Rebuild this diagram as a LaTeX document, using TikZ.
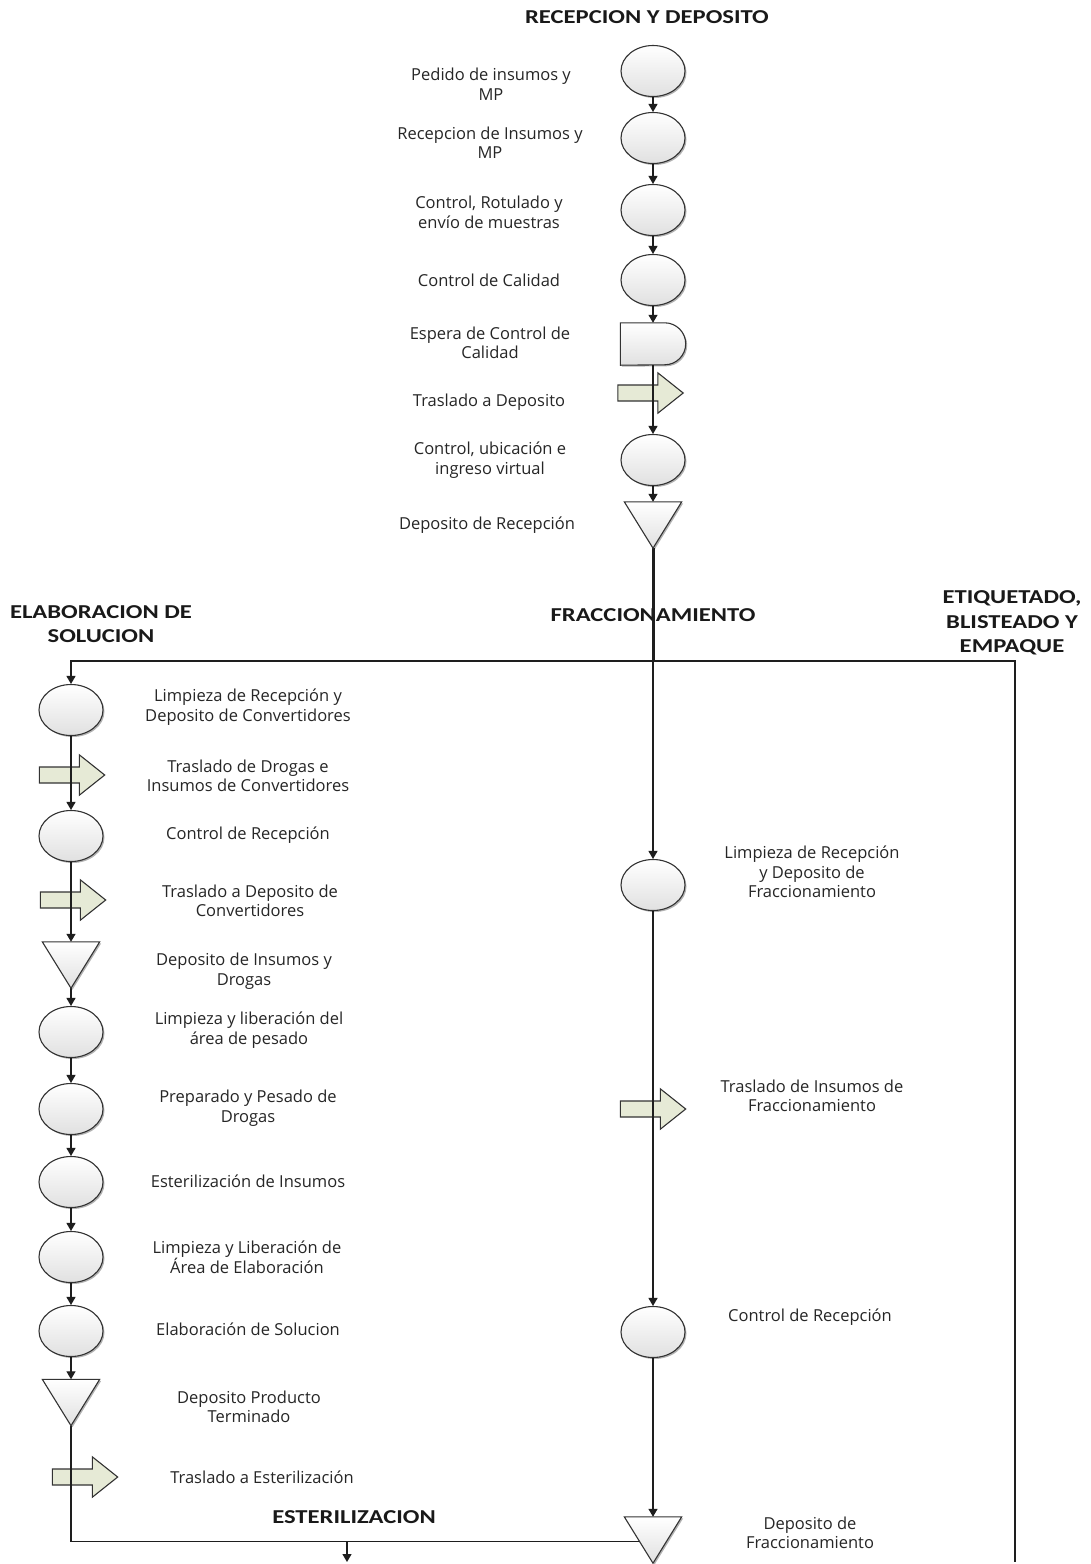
\documentclass[tikz,border=0pt]{standalone}
\usepackage{fontspec}
\setmainfont{Open Sans}
\newfontfamily\hdrfont[FakeStretch=1.25]{Carlito}
\usetikzlibrary{shapes.geometric,arrows.meta,shadows,calc}
\pgfdeclarelayer{bg}
\pgfdeclarelayer{mid}
\pgfsetlayers{bg,mid,main}
\definecolor{movefill}{RGB}{230,234,214}
\definecolor{ink}{RGB}{30,30,30}

% symbol outlines drawn around invisible anchor nodes
\newcommand\movearrow[1]{%
  \draw[movestyle] ([yshift=8pt]#1.west) -- ([xshift=40pt,yshift=8pt]#1.west)
    -- ([xshift=40pt]#1.north west) -- (#1.east) -- ([xshift=40pt]#1.south west)
    -- ([xshift=40pt,yshift=-8pt]#1.west) -- ([yshift=-8pt]#1.west) -- cycle;}
\newcommand\storetri[1]{%
  \draw[solid3d] (#1.north west) -- (#1.north east) -- (#1.south) -- cycle;}
\newcommand\delaybox[1]{%
  \draw[solid3d] (#1.south west) -- (#1.north west) -- ([xshift=-21pt]#1.north east)
    arc[start angle=90,end angle=-90,x radius=21pt,y radius=21pt] -- cycle;}

\begin{document}
\begin{tikzpicture}[x=1pt,y=1pt,
  lbl/.style={font=\fontsize{16.5}{19.5}\selectfont, text=black!85, align=center, inner sep=0pt},
  hdr/.style={font=\hdrfont\bfseries\fontsize{19.7}{24.5}\selectfont, text=black!90, align=center, inner sep=0pt},
  solid3d/.style={draw=black!80, line width=1.1pt, top color=white, bottom color=black!12,
    drop shadow={shadow xshift=1.5pt, shadow yshift=-1.5pt, opacity=0.3, fill=black}},
  movestyle/.style={draw=black!80, line width=1.1pt, fill=movefill},
  opcircle/.style={ellipse, solid3d, minimum width=64pt, minimum height=51pt, inner sep=0pt},
  arrowslot/.style={inner sep=0pt, minimum width=65pt, minimum height=40pt},
  storeslot/.style={inner sep=0pt, minimum width=57pt, minimum height=46pt},
  delayslot/.style={inner sep=0pt, minimum width=65pt, minimum height=42pt},
  conn/.style={draw=ink, line width=1.2pt},
  flow/.style={conn, -{Triangle[width=9pt,length=8pt]}},
]
\useasboundingbox (0,0) rectangle (1090,-1564);
\begin{pgfonlayer}{bg}
  \fill[white] (0,0) rectangle (1090,-1564);
\end{pgfonlayer}

% ---------------- section headings ----------------
\node[hdr] (hRec) at (647,-17) {RECEPCION Y DEPOSITO};
\node[hdr] (hElab) at (101,-624) {ELABORACION DE\\SOLUCION};
\node[hdr] (hEtiq) at (1012,-623) {ETIQUETADO,\\BLISTEADO Y\\EMPAQUE};
\node[hdr] (hEst) at (354,-1517) {ESTERILIZACION};
\begin{pgfonlayer}{bg}
  \node[hdr] (hFrac) at (653,-615) {FRACCIONAMIENTO};
\end{pgfonlayer}

% ---------------- recepcion y deposito ----------------
\node[opcircle] (c1) at (653,-71) {};
\node[opcircle] (c2) at (653,-138) {};
\node[opcircle] (c3) at (653,-210) {};
\node[opcircle] (c4) at (653,-280) {};
\node[delayslot] (e5) at (653,-344) {};
\delaybox{e5}
\node[arrowslot] (a6) at (650.5,-393) {};
\node[opcircle] (c7) at (653,-460) {};
\node[storeslot] (t8) at (653,-525) {};
\storetri{t8}

\node[lbl] (l1) at (491,-84) {Pedido de insumos y\\MP};
\node[lbl] (l2) at (490,-142.5) {Recepcion de Insumos y\\MP};
\node[lbl] (l3) at (489,-212.5) {Control, Rotulado y\\envío de muestras};
\node[lbl] (l4) at (489,-280) {Control de Calidad};
\node[lbl] (l5) at (490,-343) {Espera de Control de\\Calidad};
\node[lbl] (l6) at (489,-402) {Traslado a Deposito};
\node[lbl] (l7) at (490,-460) {Control, ubicación e\\ingreso virtual};
\node[lbl] (l8) at (487,-525) {Deposito de Recepción};

% ---------------- elaboracion de solucion ----------------
\node[opcircle] (L1) at (71,-710) {};
\node[arrowslot] (A2) at (72,-775) {};
\node[opcircle] (L3) at (71,-836) {};
\node[arrowslot] (A4) at (73,-900) {};
\node[storeslot] (T5) at (71,-965) {};
\storetri{T5}
\node[opcircle] (L6) at (71,-1032) {};
\node[opcircle] (L7) at (71,-1109) {};
\node[opcircle] (L8) at (71,-1182) {};
\node[opcircle] (L9) at (71,-1257) {};
\node[opcircle] (L10) at (71,-1331) {};
\node[storeslot] (T11) at (71,-1402.5) {};
\storetri{T11}
\node[arrowslot] (A12) at (85,-1477) {};

\node[lbl] (m1) at (248,-707) {Limpieza de Recepción y\\Deposito de Convertidores};
\node[lbl] (m2) at (248,-776) {Traslado de Drogas e\\Insumos de Convertidores};
\node[lbl] (m3) at (248,-835) {Control de Recepción};
\node[lbl] (m4) at (250,-901) {Traslado a Deposito de\\Convertidores};
\node[lbl] (m5) at (244,-971) {Deposito de Insumos y\\Drogas};
\node[lbl] (m6) at (249,-1030) {Limpieza y liberación del\\área de pesado};
\node[lbl] (m7) at (248,-1108) {Preparado y Pesado de\\Drogas};
\node[lbl] (m8) at (248,-1181) {Esterilización de Insumos};
\node[lbl] (m9) at (247,-1257) {Limpieza y Liberación de\\Área de Elaboración};
\node[lbl] (m10) at (248,-1329) {Elaboración de Solucion};
\node[lbl] (m11) at (249,-1407) {Deposito Producto\\Terminado};
\node[lbl] (m12) at (262,-1477) {Traslado a Esterilización};

% ---------------- fraccionamiento ----------------
\node[opcircle] (M1) at (653,-885) {};
\node[arrowslot] (MA) at (653,-1109) {};
\node[opcircle] (M2) at (653,-1332) {};
\node[storeslot] (TM) at (653,-1540) {};
\storetri{TM}

\node[lbl] (f1) at (812,-872) {Limpieza de Recepción\\y Deposito de\\Fraccionamiento};
\node[lbl] (f2) at (812,-1096) {Traslado de Insumos de\\Fraccionamiento};
\node[lbl] (f3) at (810,-1317) {Control de Recepción};
\node[lbl] (f4) at (810,-1533) {Deposito de\\Fraccionamiento};

% ---------------- transport arrows (under the flow lines) ----------------
\begin{pgfonlayer}{bg}
  \movearrow{a6}
  \movearrow{A2}
  \movearrow{A4}
  \movearrow{A12}
  \movearrow{MA}
\end{pgfonlayer}

% ---------------- junctions and free ends ----------------
\coordinate (jm) at (653,-661);
\coordinate (jl) at (71,-661);
\coordinate (rtop) at (1015,-661);
\coordinate (rbot) at (1015,-1562);
\coordinate (sj) at (347,-1542);
\coordinate (send) at (347,-1562);

% ---------------- flow lines ----------------
\begin{pgfonlayer}{mid}
  \draw[flow] (c1) -- (c2);
  \draw[flow] (c2) -- (c3);
  \draw[flow] (c3) -- (c4);
  \draw[flow] (c4) -- (e5.north);
  \draw[flow] (e5.south) -- (c7);
  \draw[flow] (c7) -- (t8.north);
  \draw[draw=ink, line width=3pt] (t8.south) -- (jm);
  \draw[conn] (jm) -- (rtop) -- (rbot);
  \draw[flow] (jm) -- (jl) -- (L1);
  \draw[flow] (jm) -- (M1);

  \draw[flow] (L1) -- (L3);
  \draw[flow] (L3) -- (T5.north);
  \draw[flow] (T5.south) -- (L6);
  \draw[flow] (L6) -- (L7);
  \draw[flow] (L7) -- (L8);
  \draw[flow] (L8) -- (L9);
  \draw[flow] (L9) -- (L10);
  \draw[flow] (L10) -- (T11.north);
  \draw[conn] (T11.south) |- ($(TM.north)!0.54!(TM.south)$);
  \draw[flow] (sj) -- (send);

  \draw[flow] (M1) -- (M2);
  \draw[flow] (M2) -- (TM.north);
\end{pgfonlayer}
\end{tikzpicture}
\end{document}
